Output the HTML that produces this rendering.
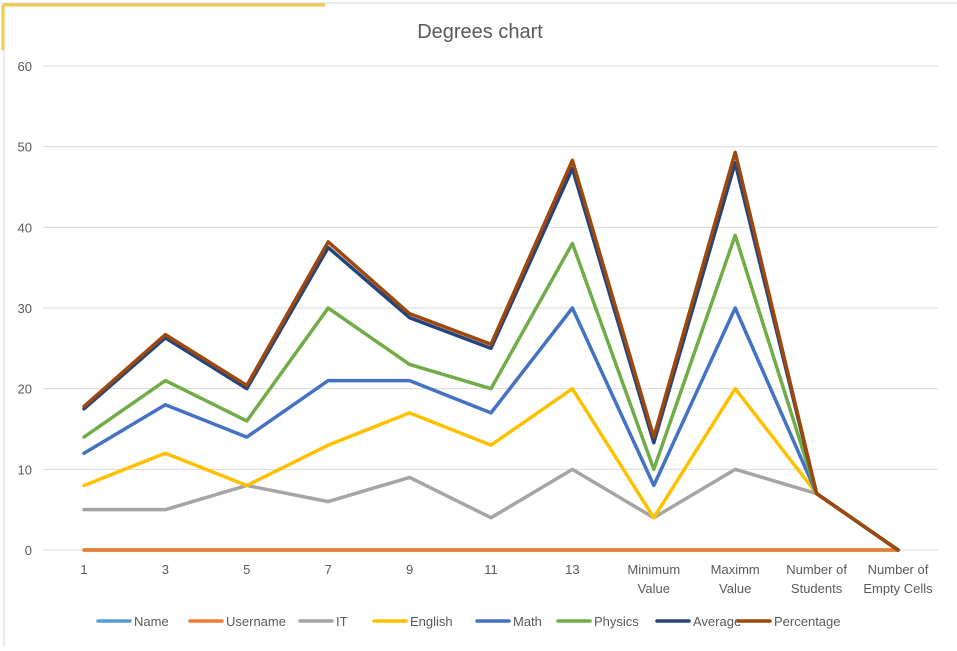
<!DOCTYPE html>
<html><head><meta charset="utf-8"><style>
body{margin:0;background:#fff;width:957px;height:646px;overflow:hidden;font-family:"Liberation Sans",sans-serif}
svg text{font-family:"Liberation Sans",sans-serif;fill:#595959}
</style></head><body>
<svg id="c" width="957" height="646">
<rect x="0" y="0" width="957" height="646" fill="#fff"/>
<line x1="0" y1="3" x2="957" y2="3" stroke="#d4d4d4"/>
<line x1="3" y1="5" x2="325" y2="5" stroke="#f2c94c" stroke-width="3"/>
<line x1="3" y1="5" x2="3" y2="50" stroke="#f2c94c" stroke-width="3"/>
<line x1="4" y1="50" x2="4" y2="646" stroke="#d4d4d4"/>
<text x="480" y="38" font-size="20" text-anchor="middle">Degrees chart</text>
<g id="grid"></g><g id="lines"></g><g id="legend"></g>
</svg>
<script>
const categories=["1","3","5","7","9","11","13","Minimum|Value","Maximm|Value","Number of|Students","Number of|Empty Cells"];
const yTicks=[0,10,20,30,40,50,60];
const seriesNames=["Name","Username","IT","English","Math","Physics","Average","Percentage"];
const seriesColors=["#5b9bd5","#ed7d31","#a5a5a5","#ffc000","#4472c4","#70ad47","#264478","#9e480e"];
const nameVals=[0,0,0,0,0,0,0,0,0,0,0];
const usernameVals=[0,0,0,0,0,0,0,0,0,0,0];
const itVals=[5,5,8,6,9,4,10,4,10,7,0];
const englishVals=[8,12,8,13,17,13,20,4,20,7,0];
const mathVals=[12,18,14,21,21,17,30,8,30,7,0];
const physicsVals=[14,21,16,30,23,20,38,10,39,7,0];
const averageVals=[17.5,26.3,20,37.5,28.8,25,47.3,13.3,48,7,0];
const percentageVals=[17.8,26.7,20.4,38.2,29.3,25.5,48.3,14,49.3,7,0];
const allVals=[nameVals,usernameVals,itVals,englishVals,mathVals,physicsVals,averageVals,percentageVals];
const NS="http://www.w3.org/2000/svg";
const x=i=>84+i*(898-84)/(categories.length-1);
const y=v=>550-v*(550-66)/60;
function mk(t,a,p){const e=document.createElementNS(NS,t);for(const k in a)e.setAttribute(k,a[k]);p.appendChild(e);return e;}
const grid=document.getElementById('grid');
yTicks.forEach(t=>{
 const l=mk('line',{x1:43,x2:938,y1:y(t),y2:y(t),stroke:'#d9d9d9'},grid);
 
 
 const tx=mk('text',{x:32,y:y(t)+5,'font-size':13,'text-anchor':'end'},grid);tx.textContent=t;
 
 
});
categories.forEach((c,i)=>{
 const parts=c.split('|');
 parts.forEach((p,j)=>{const tx=mk('text',{x:x(i),y:574+j*19,'font-size':13,'text-anchor':'middle'},grid);tx.textContent=p;
 
 });
});
const lines=document.getElementById('lines');
allVals.forEach((vals,s)=>{
 const pl=mk('polyline',{points:vals.map((v,i)=>x(i)+','+y(v)).join(' '),fill:'none',stroke:seriesColors[s],'stroke-width':3.5,'stroke-linejoin':'round','stroke-linecap':'round'},lines);
 
 
});
const legX=[98,190,300,374,477,558,657,738];
const legend=document.getElementById('legend');
seriesNames.forEach((n,s)=>{
 const g=mk('g',{},legend);
 
 
 mk('line',{x1:legX[s],x2:legX[s]+32,y1:621,y2:621,stroke:seriesColors[s],'stroke-width':3.5,'stroke-linecap':'round'},g);
 const t=mk('text',{x:legX[s]+36,y:626,'font-size':13},g);t.textContent=n;
});
</script>
</body></html>
